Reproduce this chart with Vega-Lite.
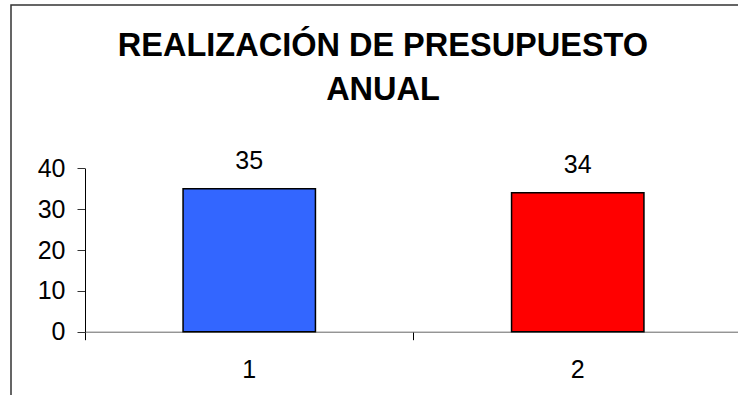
{
  "$schema": "https://vega.github.io/schema/vega-lite/v6.json",
  "autosize": {"type": "none"},
  "padding": {"left": 11, "top": 5, "right": 0, "bottom": 0},
  "width": 740,
  "height": 400,
  "background": "white",
  "config": {
    "font": "Liberation Sans",
    "view": {"stroke": "#333333", "strokeWidth": 1.5}
  },
  "title": {
    "text": ["REALIZACIÓN DE PRESUPUESTO", "ANUAL"],
    "font": "Liberation Sans",
    "fontSize": 32.5,
    "fontWeight": "bold",
    "color": "black",
    "anchor": "middle",
    "frame": "group",
    "baseline": "top",
    "offset": -101,
    "dx": 2,
    "lineHeight": 44
  },
  "data": {
    "values": [
      {"cat": "1", "value": 35},
      {"cat": "2", "value": 34}
    ]
  },
  "encoding": {
    "x": {
      "field": "cat",
      "type": "nominal",
      "scale": {"type": "band", "range": [74, 731], "paddingInner": 0, "paddingOuter": 0},
      "axis": {
        "title": null,
        "labelAngle": 0,
        "labelFont": "Liberation Sans",
        "labelFontSize": 25,
        "labelColor": "black",
        "tickSize": 8,
        "tickColor": "black",
        "domainColor": "#666666",
        "labelPadding": 18,
        "bandPosition": 0,
        "offset": -73.3
      }
    },
    "y": {
      "field": "value",
      "type": "quantitative",
      "scale": {"domain": [0, 40], "range": [326.7, 163.3], "nice": false, "zero": true},
      "axis": {
        "title": null,
        "values": [0, 10, 20, 30, 40],
        "grid": false,
        "labelFont": "Liberation Sans",
        "labelFontSize": 25,
        "labelColor": "black",
        "tickSize": 8,
        "tickColor": "#333333",
        "domainColor": "black",
        "labelPadding": 12,
        "offset": -74
      }
    }
  },
  "layer": [
    {
      "mark": {"type": "bar", "width": {"band": 0.403}, "stroke": "black", "strokeWidth": 1.5},
      "encoding": {
        "color": {
          "field": "cat",
          "type": "nominal",
          "scale": {"domain": ["1", "2"], "range": ["#3366FF", "#FF0000"]},
          "legend": null
        }
      }
    },
    {
      "mark": {"type": "text", "dy": -20, "baseline": "alphabetic", "fontSize": 25, "font": "Liberation Sans", "color": "black"},
      "encoding": {
        "text": {"field": "value", "type": "quantitative"}
      }
    }
  ]
}
